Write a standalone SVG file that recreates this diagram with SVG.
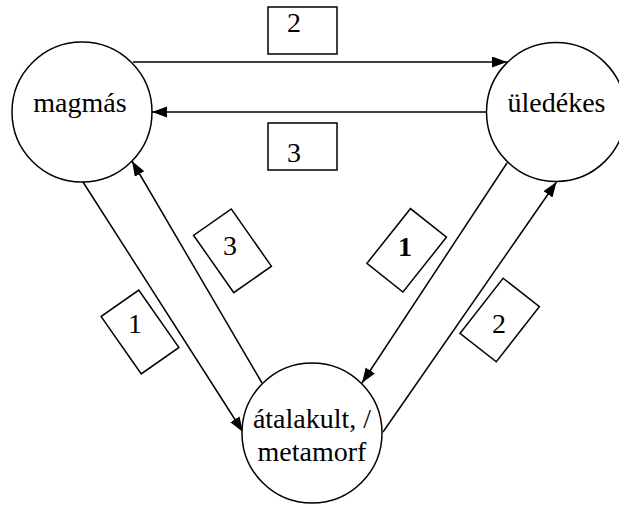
<svg xmlns="http://www.w3.org/2000/svg" width="619" height="507" viewBox="0 0 619 507">
<style>
.node{fill:#fff;stroke:#000;stroke-width:1.5}
.box{fill:#fff;stroke:#000;stroke-width:1.5}
.edge{fill:none;stroke:#000;stroke-width:1.5;marker-end:url(#ah)}
text{font-family:'Liberation Serif','Times New Roman',Times,'DejaVu Serif',serif;font-size:28px;fill:#000;text-anchor:middle}
</style>
<defs>
<marker id="ah" markerUnits="userSpaceOnUse" markerWidth="16" markerHeight="12" refX="15" refY="5.5" orient="auto">
<path d="M0,0 L15,5.5 L0,11 z" fill="#000"/>
</marker>
</defs>
<rect width="619" height="507" fill="#fff"/>
<g id="connectors">
<line class="edge" x1="133" y1="62" x2="507" y2="62"/>
<line class="edge" x1="487" y1="112" x2="152" y2="112"/>
<line class="edge" x1="83" y1="182" x2="243" y2="432"/>
<line class="edge" x1="262" y1="383" x2="132" y2="161"/>
<line class="edge" x1="507" y1="163" x2="362" y2="383"/>
<line class="edge" x1="383" y1="432" x2="556.5" y2="182"/>
</g>
<g id="label-top-2">
<rect class="box" x="268" y="7" width="69" height="47"/>
<text x="294" y="32">2</text>
</g>
<g id="label-top-3">
<rect class="box" x="268" y="123" width="69" height="47"/>
<text x="294" y="161.5">3</text>
</g>
<g id="label-mid-3">
<rect class="box" x="-35" y="-23" width="70" height="46" transform="translate(232.5,250.8) rotate(55)"/>
<text x="230" y="255">3</text>
</g>
<g id="label-left-1">
<rect class="box" x="-35" y="-23" width="70" height="46" transform="translate(140,332) rotate(55)"/>
<text x="135" y="333">1</text>
</g>
<g id="label-bold-1">
<rect class="box" x="-35" y="-23" width="70" height="46" transform="translate(406.7,250.3) rotate(-51.5)"/>
<text x="405" y="255.5" font-weight="bold">1</text>
</g>
<g id="label-right-2">
<rect class="box" x="-35" y="-23" width="70" height="46" transform="translate(499.7,320) rotate(-52)"/>
<text x="499" y="333">2</text>
</g>
<g id="magmas">
<circle class="node" cx="82" cy="112" r="70"/>
<text x="80" y="112">magmás</text>
</g>
<g id="uledekes">
<circle class="node" cx="556" cy="112" r="69.5"/>
<text x="556.5" y="112">üledékes</text>
</g>
<g id="atalakult">
<circle class="node" cx="312" cy="433" r="70"/>
<text x="312" y="428">átalakult, /</text>
<text x="312" y="461">metamorf</text>
</g>
</svg>
